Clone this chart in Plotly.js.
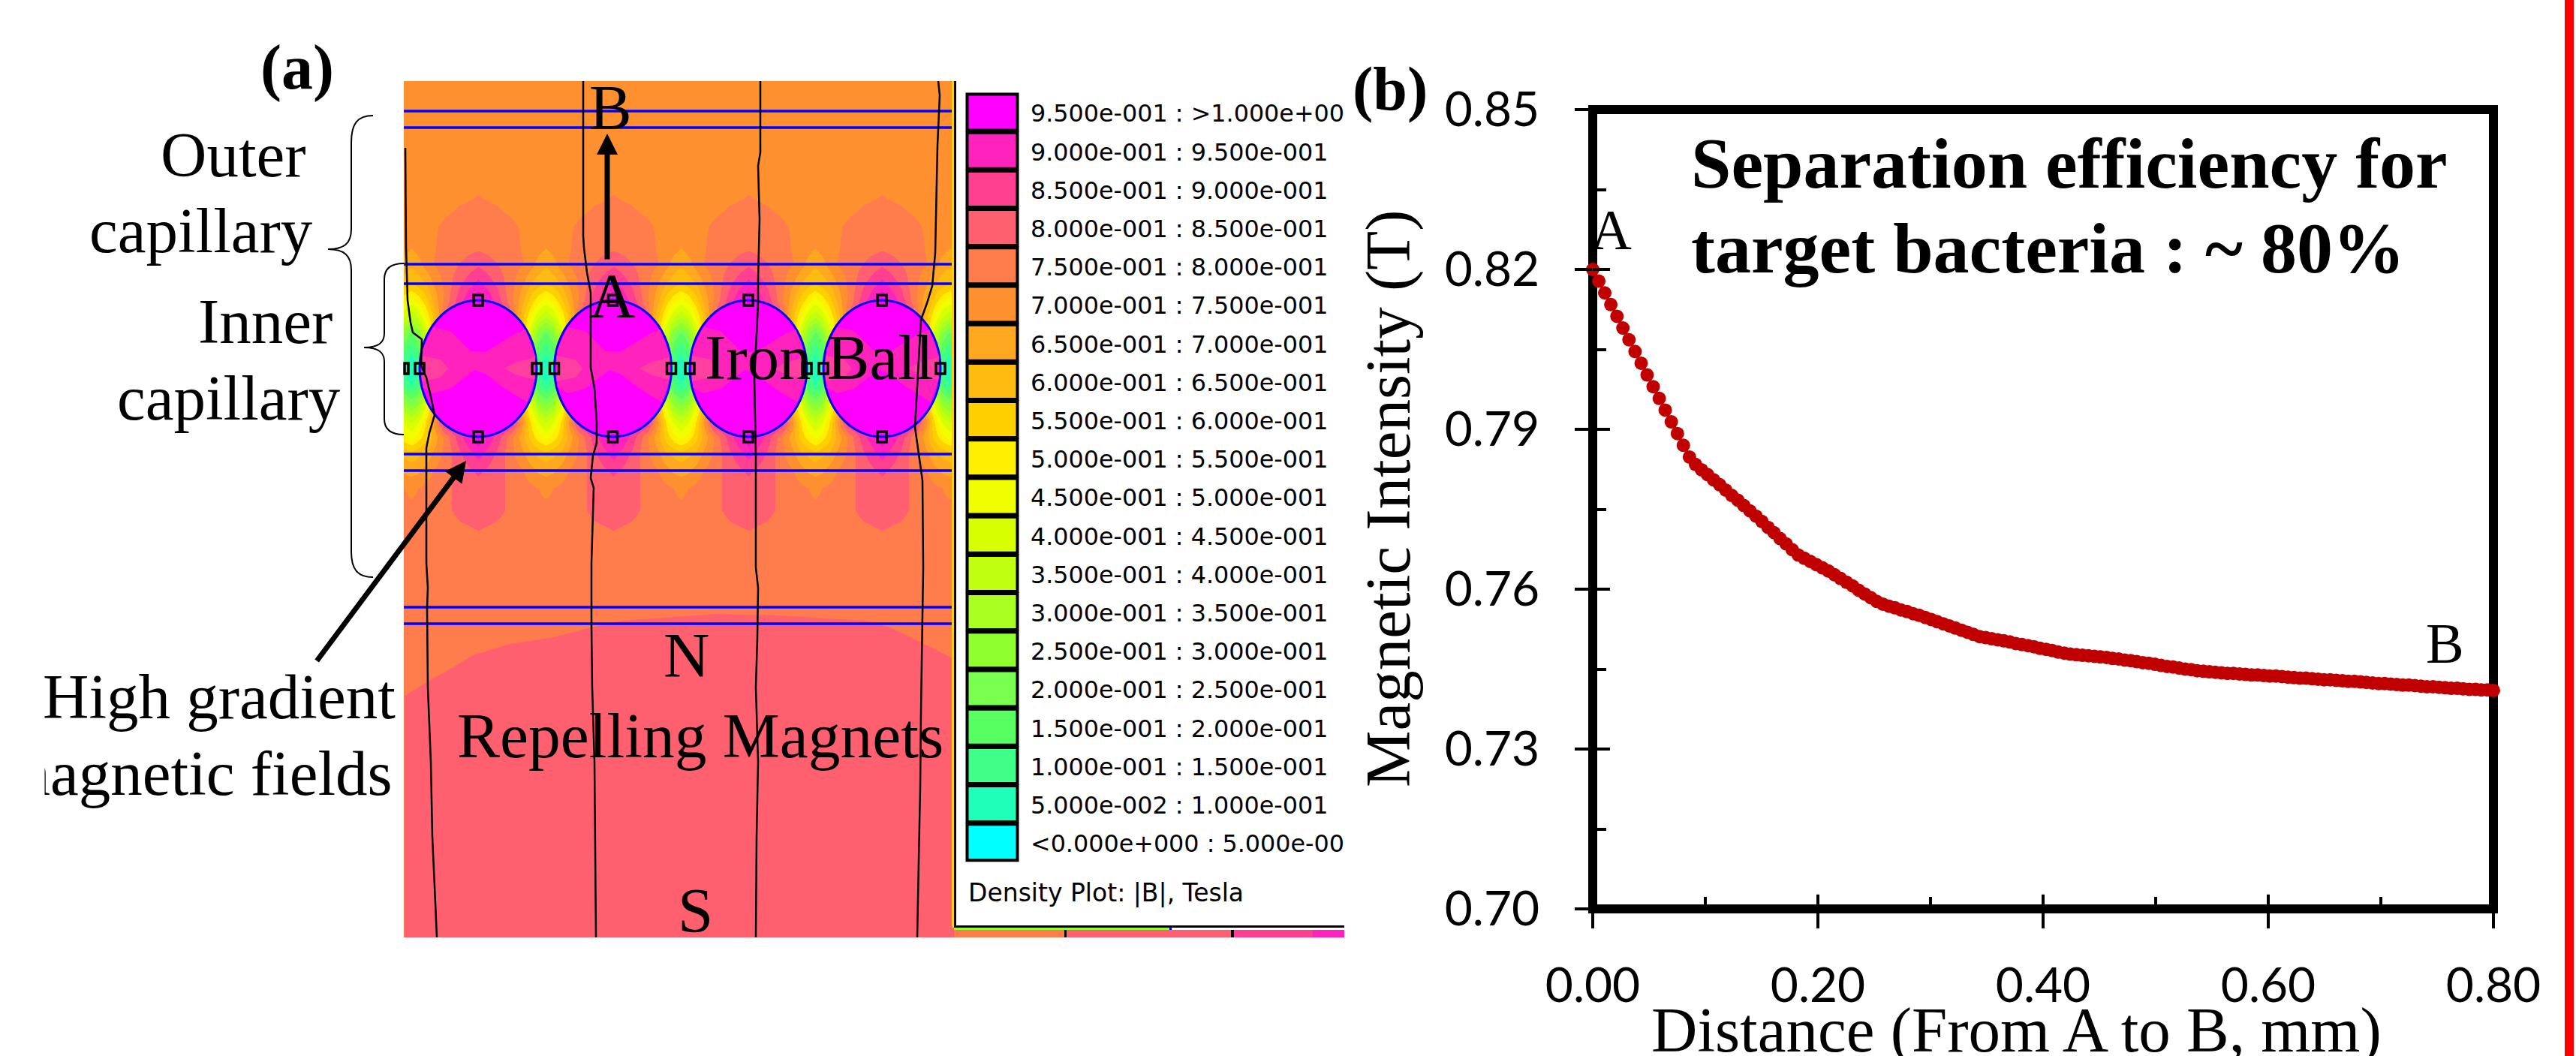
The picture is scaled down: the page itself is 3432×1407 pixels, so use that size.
<!DOCTYPE html>
<html>
<head>
<meta charset="utf-8">
<script src="https://cdn.plot.ly/plotly-3.0.1.min.js"></script>
<style>html,body{margin:0;padding:0;background:#fff}</style>
</head>
<body>
<div id="chart"></div>
<script>
// ---- panel (b): line data ----
const distance = [
0.0000,0.0054,0.0107,0.0161,0.0215,0.0268,0.0322,0.0376,0.0430,0.0483,
0.0537,0.0591,0.0644,0.0698,0.0752,0.0805,0.0859,0.0913,0.0966,0.1020,
0.1074,0.1128,0.1181,0.1235,0.1289,0.1342,0.1396,0.1450,0.1503,0.1557,
0.1611,0.1664,0.1718,0.1772,0.1826,0.1879,0.1933,0.1987,0.2040,0.2094,
0.2148,0.2201,0.2255,0.2309,0.2362,0.2416,0.2470,0.2523,0.2577,0.2631,
0.2685,0.2738,0.2792,0.2846,0.2899,0.2953,0.3007,0.3060,0.3114,0.3168,
0.3221,0.3275,0.3329,0.3382,0.3436,0.3490,0.3544,0.3597,0.3651,0.3705,
0.3758,0.3812,0.3866,0.3919,0.3973,0.4027,0.4080,0.4134,0.4188,0.4242,
0.4295,0.4349,0.4403,0.4456,0.4510,0.4564,0.4617,0.4671,0.4725,0.4778,
0.4832,0.4886,0.4939,0.4993,0.5047,0.5101,0.5154,0.5208,0.5262,0.5315,
0.5369,0.5423,0.5476,0.5530,0.5584,0.5637,0.5691,0.5745,0.5799,0.5852,
0.5906,0.5960,0.6013,0.6067,0.6121,0.6174,0.6228,0.6282,0.6335,0.6389,
0.6443,0.6496,0.6550,0.6604,0.6658,0.6711,0.6765,0.6819,0.6872,0.6926,
0.6980,0.7033,0.7087,0.7141,0.7194,0.7248,0.7302,0.7356,0.7409,0.7463,
0.7517,0.7570,0.7624,0.7678,0.7731,0.7785,0.7839,0.7892,0.7946,0.8000];
const intensity = [
0.8200,0.8178,0.8156,0.8134,0.8112,0.8090,0.8068,0.8046,0.8024,0.8002,
0.7980,0.7958,0.7936,0.7914,0.7892,0.7870,0.7848,0.7834,0.7824,0.7815,
0.7805,0.7796,0.7786,0.7776,0.7767,0.7757,0.7747,0.7737,0.7727,0.7716,
0.7706,0.7695,0.7685,0.7674,0.7664,0.7658,0.7652,0.7646,0.7640,0.7634,
0.7627,0.7620,0.7613,0.7606,0.7598,0.7591,0.7584,0.7577,0.7572,0.7568,
0.7565,0.7561,0.7558,0.7554,0.7551,0.7547,0.7543,0.7539,0.7535,0.7531,
0.7527,0.7523,0.7519,0.7515,0.7511,0.7509,0.7507,0.7505,0.7503,0.7501,
0.7498,0.7496,0.7494,0.7492,0.7489,0.7487,0.7485,0.7482,0.7480,0.7478,
0.7477,0.7476,0.7475,0.7474,0.7473,0.7472,0.7470,0.7469,0.7467,0.7466,
0.7464,0.7462,0.7461,0.7459,0.7457,0.7455,0.7454,0.7452,0.7450,0.7449,
0.7447,0.7446,0.7445,0.7444,0.7443,0.7442,0.7442,0.7441,0.7440,0.7439,
0.7439,0.7438,0.7437,0.7437,0.7436,0.7435,0.7434,0.7433,0.7433,0.7432,
0.7431,0.7430,0.7430,0.7429,0.7428,0.7427,0.7427,0.7426,0.7425,0.7424,
0.7423,0.7423,0.7422,0.7421,0.7420,0.7420,0.7419,0.7418,0.7417,0.7417,
0.7416,0.7415,0.7414,0.7414,0.7413,0.7412,0.7412,0.7411,0.7411,0.7410];
const yMajorTicks = [0.70,0.73,0.76,0.79,0.82,0.85];
const yTickLabels = ['0.70','0.73','0.76','0.79','0.82','0.85'];
const xMajorTicks = [0,0.2,0.4,0.6,0.8];
const xTickLabels = ['0.00','0.20','0.40','0.60','0.80'];

// ---- panel (a): density plot ----
const legendLabels = [
'9.500e-001 : >1.000e+000','9.000e-001 : 9.500e-001','8.500e-001 : 9.000e-001','8.000e-001 : 8.500e-001',
'7.500e-001 : 8.000e-001','7.000e-001 : 7.500e-001','6.500e-001 : 7.000e-001','6.000e-001 : 6.500e-001',
'5.500e-001 : 6.000e-001','5.000e-001 : 5.500e-001','4.500e-001 : 5.000e-001','4.000e-001 : 4.500e-001',
'3.500e-001 : 4.000e-001','3.000e-001 : 3.500e-001','2.500e-001 : 3.000e-001','2.000e-001 : 2.500e-001',
'1.500e-001 : 2.000e-001','1.000e-001 : 1.500e-001','5.000e-002 : 1.000e-001','<0.000e+000 : 5.000e-002'];
const bandColors = ['#FF00FF','#FF22BC','#FF4090','#FF6070','#FF7C4C','#FF9030','#FFA820','#FFBC10','#FFD000','#FFF000',
'#F0FF00','#D8FF00','#C0FF10','#A8FF20','#90FF30','#78FF50','#58FF60','#40FF88','#20FFB8','#00FFFF'];

const ballCentres = [637,816.5,997,1175];
const cellCentres = [458,637,816.5,997,1175,1354];
const cellOffsets = [0,25,45,60,70,80];       // last value of each row below is mid-gap
const fieldRowsY = [108,230,265,283,300,330,352,378,400,423,445,470,491,515,540,563,582,605,627,650,680,694,707,740,1249];
const fieldRows = [
[.73,.73,.73,.73,.73,.73,.73],
[.74,.735,.73,.73,.73,.73,.73],
[.752,.745,.735,.73,.73,.73,.73],
[.765,.755,.745,.735,.73,.73,.73],
[.775,.77,.755,.745,.73,.72,.72],
[.79,.78,.765,.745,.735,.72,.70],
[.84,.80,.775,.75,.72,.68,.66],
[.92,.84,.76,.70,.65,.62,.60],
[.99,.88,.76,.66,.58,.52,.48],
[.99,.95,.80,.60,.50,.40,.35],
[1,1,.90,.60,.40,.25,.18],
[1,1,.90,.60,.30,.15,.10],
[1,1,.90,.60,.25,.10,.05],
[1,1,.90,.60,.30,.15,.10],
[1,1,.90,.60,.45,.30,.25],
[1,.95,.90,.70,.55,.45,.40],
[.99,.88,.76,.66,.58,.52,.48],
[.92,.84,.76,.71,.66,.64,.62],
[.86,.82,.78,.75,.72,.69,.68],
[.83,.815,.785,.77,.76,.75,.74],
[.815,.81,.79,.77,.76,.76,.76],
[.81,.80,.785,.77,.76,.76,.76],
[.80,.79,.775,.765,.76,.76,.76],
[.78,.775,.77,.77,.77,.77,.77],
[.77,.77,.77,.77,.77,.77,.77]];

const magnetEdgeX = [539,572,597,630,680,738,788,829,954,1036,1153,1186,1227,1271,1271,539];
const magnetEdgeY = [927,907,893,873,858,849,836,827,818,820,827,836,856,878,1249,1249];
const blueLinesY = [148,170,352,378,605,627,809,831];
const fieldLines = [
 [[540,197],[541,330],[543,400],[547,430],[550,443],[562,452],[561,487],[568,503],[575,533],[579,553],[572,577],[568,597],[568,650],[568,750],[570,783],[569,810],[570,916],[574,1015],[576,1115],[579,1181],[582,1249]],
 [[777,108],[777,314],[778,330],[782,363],[787,390],[787,490],[792,517],[795,563],[795,590],[790,607],[787,637],[791,650],[788,750],[788,836],[789,916],[792,1015],[794,1249]],
 [[1013,108],[1013,203],[1010,221],[1012,292],[1010,372],[1010,404],[1005,506],[1007,605],[1007,756],[1010,783],[1009,850],[1007,916],[1010,1015],[1008,1115],[1007,1249]],
 [[1250,108],[1252,127],[1249,194],[1246,337],[1242,381],[1235,404],[1227,426],[1219,569],[1229,640],[1230,756],[1227,949],[1226,1048],[1222,1249]]
];
const ballPatchDeep = [[-60,-55],[-37,-50],[-10,-23],[10,-22],[50,-47],[63,-52],[76,-17],[76,13],[65,45],[30,23],[10,7],[-5,2],[-37,27],[-60,33],[-74,25],[-74,-25]];
const ballPatchLeft = [[-75,-17],[-50,-12],[-40,0],[-50,12],[-75,17]];
const ballPatchRight = [[75,-15],[50,-8],[35,0],[50,8],[75,15]];
const bottomStrip = [[1271,1418,'#FF7C4C'],[1421,1640,'#FF6070'],[1644,1749,'#FF4090'],[1749,1791,'#FF22BC']];

// ---- build ----
const W = 3432, H = 1407, SERIF = 'Liberation Serif, serif';
const plot = {l:2122, r:3322, t:146, b:1211};
const shapes = [];
const px = (o) => Object.assign({xref:'x2', yref:'y2'}, o);
const rect = (x0,y0,x1,y1,fill,lineC,lineW) => shapes.push(px({type:'rect',x0,y0,x1,y1,fillcolor:fill||'rgba(0,0,0,0)',line:{color:lineC||'rgba(0,0,0,0)',width:lineW||0},layer:'above'}));
const poly = (pts,fill,close) => 'M'+pts.map(p=>p[0]+','+p[1]).join('L')+(close?'Z':'');

// plot frame (paper refs so it is not clipped)
shapes.push({type:'rect',xref:'paper',yref:'paper',x0:plot.l/W,x1:plot.r/W,y0:1-plot.b/H,y1:1-plot.t/H,line:{color:'#000',width:12},layer:'below'});
// inner part of the crossing major ticks
yMajorTicks.slice(1,-1).forEach(v=>shapes.push({type:'line',xref:'x',yref:'y',x0:0,x1:0.0153,y0:v,y1:v,line:{color:'#000',width:4},layer:'above'}));
xMajorTicks.slice(1,-1).forEach(v=>shapes.push({type:'line',xref:'x',yref:'y',x0:v,x1:v,y0:0.70,y1:0.7027,line:{color:'#000',width:4},layer:'above'}));

// magnet region
shapes.push(px({type:'path',path:poly(magnetEdgeX.map((x,i)=>[x,magnetEdgeY[i]]),0,true),fillcolor:'#FF6070',line:{width:0},layer:'above'}));
rect(1268,108,1271,1236,'#FFD000');

// iron balls
ballCentres.forEach(c=>{
  const off = pts => pts.map(p=>[c+p[0],491+p[1]]);
  shapes.push(px({type:'circle',x0:c-78,x1:c+78,y0:400,y1:582,fillcolor:'#FF00FF',line:{color:'#0000FF',width:3},layer:'above'}));
  shapes.push(px({type:'path',path:poly(off(ballPatchDeep),0,true),fillcolor:'#FF22BC',line:{width:0},layer:'above'}));
  shapes.push(px({type:'path',path:poly(off(ballPatchLeft),0,true),fillcolor:'#FF40A0',line:{width:0},layer:'above'}));
  shapes.push(px({type:'path',path:poly(off(ballPatchRight),0,true),fillcolor:'#FF40A0',line:{width:0},layer:'above'}));
});
// blue capillary lines
blueLinesY.forEach(y=>shapes.push(px({type:'line',x0:538,x1:1268,y0:y,y1:y,line:{color:'#0000FF',width:3.5},layer:'above'})));
// flux lines
fieldLines.forEach(l=>shapes.push(px({type:'path',path:poly(l),line:{color:'#000',width:2.5},layer:'above'})));
// node handles
ballCentres.forEach(c=>{
  [[c,400],[c,582],[c-78,491],[c+78,491]].forEach(p=>rect(p[0]-6,p[1]-7,p[0]+6,p[1]+7,null,'#000',3.5));
});
rect(539,484,544,498,null,'#000',3.5);
// braces
shapes.push(px({type:'path',path:'M497,154 C476,154 468,165 468,190 L468,305 C468,325 458,332 437,332 C458,332 468,340 468,360 L468,735 C468,758 476,769 497,769',line:{color:'#000',width:2},layer:'above'}));
shapes.push(px({type:'path',path:'M538,351 C520,351 512,358 512,372 L512,444 C512,456 505,463 485,463 C505,463 512,470 512,482 L512,558 C512,572 520,579 538,579',line:{color:'#000',width:2},layer:'above'}));
// legend box
rect(1271,108,1274,1236,'#000');
rect(1271,1233,1791,1236,'#000');
rect(1271,1236,1558,1239,'#90FF30');
rect(1558,1236,1561,1239,'#0000FF');
bottomStrip.forEach(s=>rect(s[0],1239,s[1],1249,s[2]));
rect(1418,1239,1421,1249,'#000');
rect(1640,1239,1644,1249,'#000');
bandColors.forEach((c,i)=>rect(1288.5,125.5+51.2*i,1355.5,173.5+51.2*i,c,'#000',4));
// right red rule
rect(3417,0,3429,H,'#FF0000');

// heatmap grid
const gridX = [];
const buildRow = r => {
  const out = [];
  cellCentres.forEach(()=>{
    for (let k=cellOffsets.length-1;k>0;k--) out.push(r[k]);
    cellOffsets.forEach((o,k)=>out.push(r[k]));
    out.push(r[6]);
  });
  return out;
};
cellCentres.forEach((c,idx)=>{
  for (let k=cellOffsets.length-1;k>0;k--) gridX.push(c-cellOffsets[k]);
  cellOffsets.forEach(o=>gridX.push(c+o));
  const next = cellCentres[idx+1] !== undefined ? cellCentres[idx+1] : c+179;
  gridX.push((c+next)/2);
});
const gridZ = fieldRows.map(buildRow);

// stepped colour scale: one flat stop pair per 0.05 T band
const zMax = 1.0;
const colorscale = [];
bandColors.slice().reverse().forEach((c,i,arr)=>{
  colorscale.push([i/arr.length,c]);
  colorscale.push([(i+1)/arr.length,c]);
});

const ann = [];
const txt = (text,x,baseline,size,opt) => {
  opt = opt || {};
  ann.push({text:opt.bold?'<b>'+text+'</b>':text,x,y:baseline-0.9*size,xref:'x2',yref:'y2',xanchor:opt.anchor||'left',yanchor:'top',
    showarrow:false,borderpad:0,font:{family:opt.family||SERIF,size,color:'#000'}});
};
const mask = (x,y,w,h) => ann.push({text:'&nbsp;',x,y,xref:'x2',yref:'y2',xanchor:'left',yanchor:'top',showarrow:false,width:w,height:h,bgcolor:'#fff',borderpad:0,font:{size:12}});
txt('(a)',346,118,84,{bold:true});
txt('Outer',213,234,85);
txt('capillary',118,335,85);
txt('Inner',263,456,85);
txt('capillary',155,558,85);
txt('High gradient',56,956,85);
txt('magnetic fields',524,1058,85,{anchor:'right'});
mask(0,1000,58,90);
txt('B',784,171,85);
txt('A',784,422,85);
txt('Iron Ball',938,504,85);
txt('N',883,901,85);
txt('Repelling Magnets',608,1009,85.5);
txt('S',902,1241,85);
legendLabels.forEach((t,i)=>txt(t,1372,160+51.2*i,31.8,{family:'DejaVu Sans, sans-serif'}));
mask(1791,125,30,50);
mask(1791,1098,30,50);
txt('Density Plot: |B|, Tesla',1289,1199,33,{family:'DejaVu Sans, sans-serif'});
txt('(b)',1801,146,82,{bold:true});
txt('A',2118,331,76);
txt('B',3231,882,76);
txt('Separation efficiency for',2252,249,96,{bold:true});
txt('target bacteria : ~ 80%',2252,362,96,{bold:true});
// axis titles (placed off-centre in the reference, so set directly)
txt('Distance (From A to B, mm)',2686,1400,85,{anchor:'center'});
ann.push({text:'Magnetic Intensity (T)',x:1849,y:665,xref:'x2',yref:'y2',xanchor:'center',yanchor:'middle',textangle:-90,showarrow:false,borderpad:0,font:{family:SERIF,size:85,color:'#000'}});
const arrow = (x0,y0,x1,y1) => ann.push({x:x1,y:y1,ax:x0,ay:y0,xref:'x2',yref:'y2',axref:'x2',ayref:'y2',text:'',showarrow:true,arrowhead:2,arrowsize:0.8,arrowwidth:7,arrowcolor:'#000',standoff:0,startstandoff:0});
arrow(809,347,809,178);
arrow(421,882,621,614);

const traces = [
 {type:'heatmap',x:gridX,y:fieldRowsY,z:gridZ,xaxis:'x3',yaxis:'y3',zmin:0,zmax:zMax,colorscale,showscale:false,zsmooth:'best',hoverinfo:'skip'},
 {type:'scatter',mode:'markers',x:[0,W],y:[0,H],xaxis:'x2',yaxis:'y2',marker:{opacity:0,size:1},hoverinfo:'skip',showlegend:false},
 {type:'scatter',mode:'lines+markers',x:distance,y:intensity,xaxis:'x',yaxis:'y',cliponaxis:false,
  line:{color:'#C00000',width:4},marker:{color:'#C00000',size:18},showlegend:false}
];

const layout = {
 width:W,height:H,margin:{l:0,r:0,t:0,b:0},paper_bgcolor:'#fff',plot_bgcolor:'rgba(0,0,0,0)',showlegend:false,
 xaxis:{domain:[plot.l/W,plot.r/W],range:[0,0.8],anchor:'y',showgrid:false,zeroline:false,showline:false,
   tickmode:'array',tickvals:xMajorTicks,ticktext:xTickLabels,ticks:'outside',ticklen:25,tickwidth:4,tickcolor:'#000',ticklabelstandoff:21,
   minor:{ticks:'inside',dtick:0.1,tick0:0,ticklen:16,tickwidth:4,tickcolor:'#000',showgrid:false},
   tickfont:{family:'Lato, sans-serif',size:64,color:'#000'}},
 yaxis:{domain:[1-plot.b/H,1-plot.t/H],range:[0.70,0.85],anchor:'x',showgrid:false,zeroline:false,showline:false,
   tickmode:'array',tickvals:yMajorTicks,ticktext:yTickLabels,ticks:'outside',ticklen:23,tickwidth:4,tickcolor:'#000',ticklabelstandoff:34,
   minor:{ticks:'inside',dtick:0.015,tick0:0.7,ticklen:18,tickwidth:4,tickcolor:'#000',showgrid:false},
   tickfont:{family:'Lato, sans-serif',size:64,color:'#000'}},
 xaxis2:{domain:[0,1],range:[0,W],anchor:'y2',visible:false,fixedrange:true},
 yaxis2:{domain:[0,1],range:[H,0],anchor:'x2',visible:false,fixedrange:true},
 xaxis3:{domain:[538/W,1271/W],range:[538,1271],anchor:'y3',visible:false,fixedrange:true},
 yaxis3:{domain:[1-1249/H,1-108/H],range:[1249,108],anchor:'x3',visible:false,fixedrange:true},
 shapes,annotations:ann
};
Plotly.newPlot('chart',traces,layout,{displayModeBar:false,staticPlot:true});
</script>
</body>
</html>
